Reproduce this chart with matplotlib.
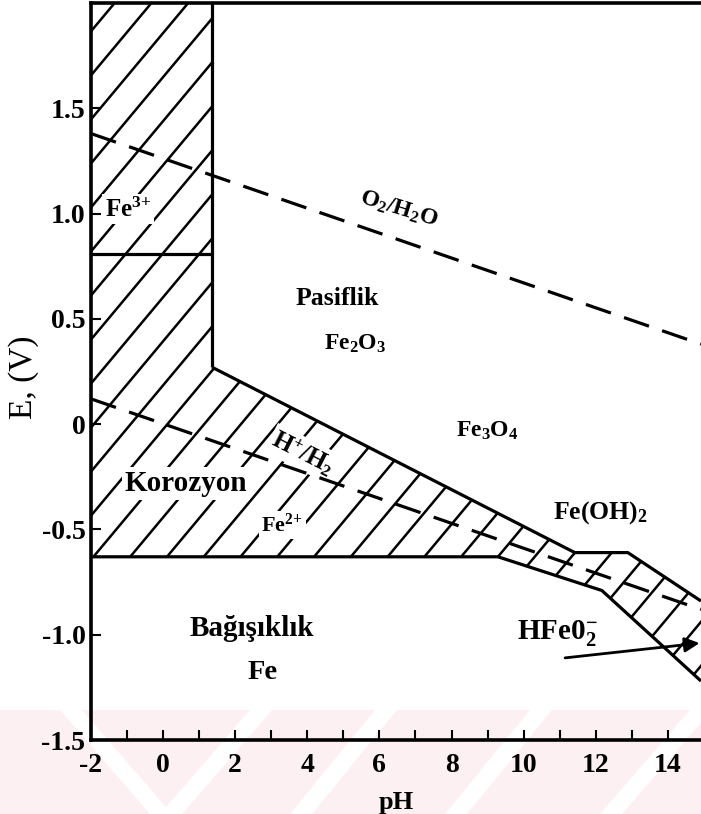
"""
Pourbaix (E-pH) diagram of iron.
"""
import numpy as np
import matplotlib.pyplot as plt
from matplotlib.patches import Polygon

# --- Data (pH, E in V) ---
fe3_wall_ph = [1.36, 1.36]
fe3_wall_e = [2.0, 0.27]
upper_ph = [1.36, 11.42, 12.89, 14.92]
upper_e = [0.27, -0.61, -0.61, -0.84]
lower_ph = [-2.0, 9.29, 12.17, 14.92]
lower_e = [-0.63, -0.63, -0.79, -1.22]
fe3_fe2_ph = [-2.0, 1.36]
fe3_fe2_e = [0.81, 0.81]

o2_ph = [-2.0, 14.92]
o2_e = [1.38, 0.38]
h2_ph = [-2.0, 14.92]
h2_e = [0.12, -0.88]

arrow_tail = (11.15, -1.11)
arrow_tip = (14.88, -1.04)

x_major = [-2, 0, 2, 4, 6, 8, 10, 12, 14]
x_minor = [-1, 1, 3, 5, 7, 9, 11, 13]
y_ticks = [-1.5, -1.0, -0.5, 0, 0.5, 1.0, 1.5]
y_labels = ["-1.5", "-1.0", "-0.5", "0", "0.5", "1.0", "1.5"]

# label text, pH, E, size, rotation, white box
labels = [
    ("Fe$^{3{+}}$", -0.98, 1.02, 18, 0, True),
    ("O$_2$/H$_2$O", 6.54, 1.02, 17, -17, False),
    ("Pasiflik", 4.82, 0.595, 18.5, 0, False),
    ("Fe$_2$O$_3$", 5.32, 0.38, 17, 0, False),
    ("Fe$_3$O$_4$", 8.98, -0.03, 17, 0, False),
    ("H$^{+}$/H$_2$", 3.88, -0.14, 18, -27, True),
    ("Korozyon", 0.63, -0.28, 21, 0, True),
    ("Fe$^{2{+}}$", 3.30, -0.48, 16, 0, True),
    ("Fe(OH)$_2$", 12.12, -0.42, 18.5, 0, False),
    ("HFe0$_2^{-}$", 10.93, -0.99, 21, 0, False),
    ("Bağışıklık", 2.46, -0.97, 21, 0, False),
    ("Fe", 2.77, -1.18, 20.5, 0, False),
]

# faint watermark strip at the bottom of the page (pixels)
wm_top, wm_bottom = 710, 814
wm_gaps_top = [60, 250, 375, 530, 690]
wm_gaps_bottom = [150, 160, 290, 445, 600]

plt.rcParams["font.family"] = ["Liberation Serif", "DejaVu Serif"]
plt.rcParams["mathtext.default"] = "regular"
plt.rcParams["axes.unicode_minus"] = False
plt.rcParams["lines.scale_dashes"] = False

fig = plt.figure(figsize=(7.01, 8.14), dpi=100)

# --- watermark ---
bg = fig.add_axes([0, 0, 1, 1], zorder=-1)
bg.set_xlim(0, 701)
bg.set_ylim(814, 0)
bg.axis("off")
bg.fill_between([0, 701], wm_top, wm_bottom, color="#fdf0f2", lw=0)
for xt, xb in zip(wm_gaps_top, wm_gaps_bottom):
    bg.fill([xt, xt + 22, xb + 22, xb], [wm_top, wm_top, wm_bottom, wm_bottom],
            color="white", lw=0)

ax = fig.add_axes([91 / 701, 74 / 814, 610 / 701, 737 / 814])
ax.set_facecolor("none")
ax.set_xlim(-2, 14.92)
ax.set_ylim(-1.5, 2.0)

# --- hatched corrosion region ---
poly_ph = np.concatenate([[-2.0], fe3_wall_ph, upper_ph[1:], lower_ph[::-1]])
poly_e = np.concatenate([[2.0], fe3_wall_e, upper_e[1:], lower_e[::-1]])
region = Polygon(np.column_stack([poly_ph, poly_e]), closed=True,
                 facecolor="none", edgecolor="none")
ax.add_patch(region)
slope = 0.205
for c in np.arange(-11.1, 23, 1.02):
    ln, = ax.plot([-3, 16], [slope * (-3 - c), slope * (16 - c)],
                  color="k", lw=1.8, zorder=2)
    ln.set_clip_path(region)

# --- boundaries ---
for xs, ys in [(fe3_wall_ph, fe3_wall_e), (upper_ph, upper_e),
               (lower_ph, lower_e), (fe3_fe2_ph, fe3_fe2_e)]:
    ax.plot(xs, ys, color="k", lw=2.3, zorder=5, solid_capstyle="butt")

ax.plot(o2_ph, o2_e, color="k", lw=2.3, ls=(0, (19, 10)), zorder=4)
ax.plot(h2_ph, h2_e, color="k", lw=2.3, ls=(0, (19, 10)), zorder=4)

for txt, x, y, size, rot, boxed in labels:
    bbox = dict(facecolor="white", edgecolor="none", pad=2) if boxed else None
    ax.text(x, y, txt, fontsize=size, fontweight="bold", rotation=rot,
            rotation_mode="anchor", ha="center", va="center", bbox=bbox,
            zorder=3)

ax.annotate("", xy=arrow_tip, xytext=arrow_tail,
            arrowprops=dict(arrowstyle="-|>", color="k", lw=2,
                            mutation_scale=22, shrinkA=0, shrinkB=0),
            zorder=6)

# --- axes ---
for side in ["left", "bottom", "top"]:
    ax.spines[side].set_linewidth(2.6)
ax.spines["right"].set_visible(False)

ax.set_xticks(x_major)
ax.set_xticks(x_minor, minor=True)
ax.set_yticks(y_ticks)
ax.set_yticklabels(y_labels)
ax.tick_params(which="both", direction="in", length=7, width=1.5,
               top=False, right=False)
ax.tick_params(axis="x", pad=9)
ax.tick_params(axis="y", pad=4)
for lab in ax.get_xticklabels() + ax.get_yticklabels():
    lab.set_fontsize(20)
    lab.set_fontweight("bold")

ax.set_xlabel("pH", fontsize=19, fontweight="bold", labelpad=10)
ax.set_ylabel("E, (V)", fontsize=24)
ax.yaxis.set_label_coords(-0.085, 0.4925)

fig.savefig("out.png", dpi=100)
